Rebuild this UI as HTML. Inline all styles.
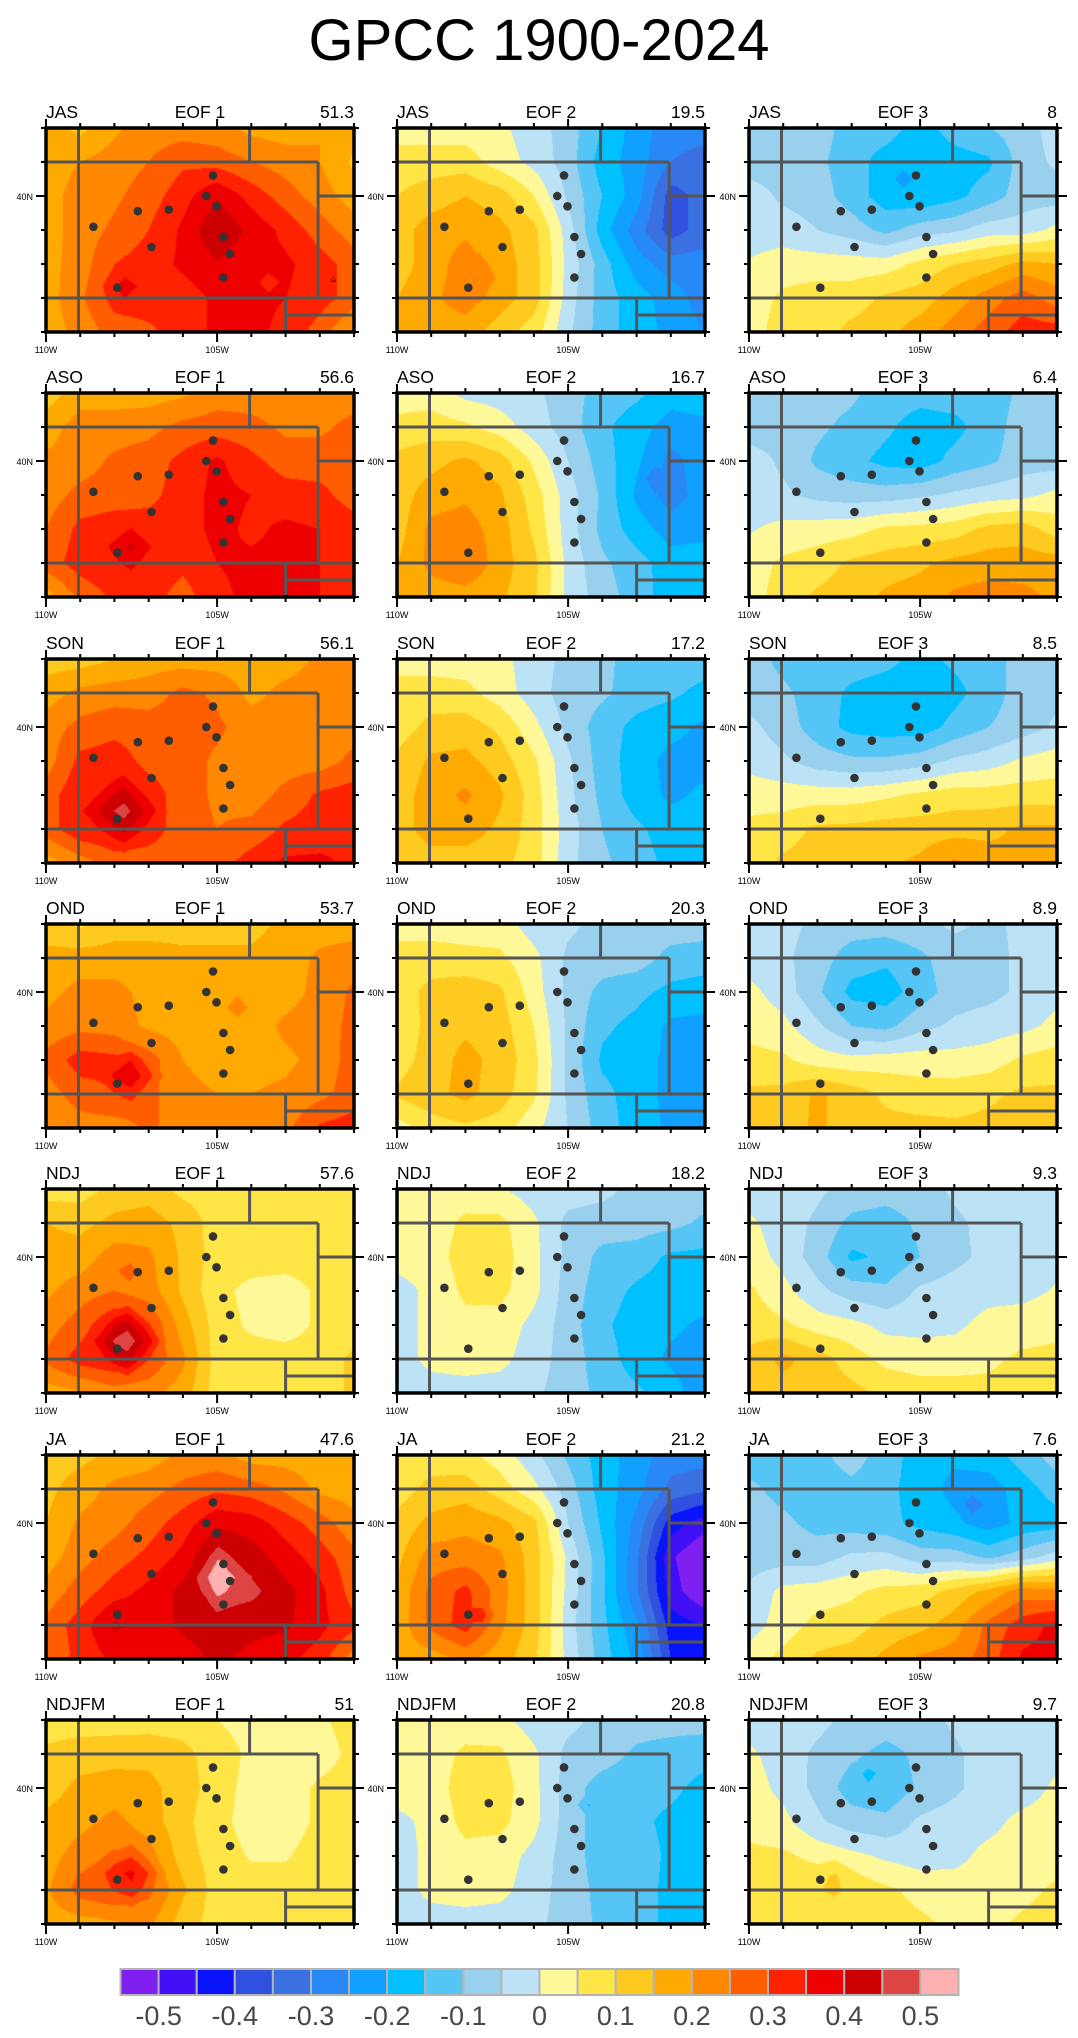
<!DOCTYPE html>
<html><head><meta charset="utf-8">
<style>
html,body{margin:0;padding:0;background:#fff;}
#wrap{position:relative;width:1078px;height:2038px;overflow:hidden;background:#fff;}
canvas{position:absolute;width:308px;height:204px;}
svg{position:absolute;left:0;top:0;}
svg text{font-family:"Liberation Sans",Arial,sans-serif;fill:#000;}
.h{font-size:17.5px;}
.t{font-size:9px;}
.cb{font-size:27px;fill:#484848 !important;}
</style></head><body><div id="wrap">
<canvas id="c0" width="308" height="204" style="left:46px;top:128px"></canvas>
<canvas id="c1" width="308" height="204" style="left:397px;top:128px"></canvas>
<canvas id="c2" width="308" height="204" style="left:749px;top:128px"></canvas>
<canvas id="c3" width="308" height="204" style="left:46px;top:393px"></canvas>
<canvas id="c4" width="308" height="204" style="left:397px;top:393px"></canvas>
<canvas id="c5" width="308" height="204" style="left:749px;top:393px"></canvas>
<canvas id="c6" width="308" height="204" style="left:46px;top:659px"></canvas>
<canvas id="c7" width="308" height="204" style="left:397px;top:659px"></canvas>
<canvas id="c8" width="308" height="204" style="left:749px;top:659px"></canvas>
<canvas id="c9" width="308" height="204" style="left:46px;top:924px"></canvas>
<canvas id="c10" width="308" height="204" style="left:397px;top:924px"></canvas>
<canvas id="c11" width="308" height="204" style="left:749px;top:924px"></canvas>
<canvas id="c12" width="308" height="204" style="left:46px;top:1189px"></canvas>
<canvas id="c13" width="308" height="204" style="left:397px;top:1189px"></canvas>
<canvas id="c14" width="308" height="204" style="left:749px;top:1189px"></canvas>
<canvas id="c15" width="308" height="204" style="left:46px;top:1455px"></canvas>
<canvas id="c16" width="308" height="204" style="left:397px;top:1455px"></canvas>
<canvas id="c17" width="308" height="204" style="left:749px;top:1455px"></canvas>
<canvas id="c18" width="308" height="204" style="left:46px;top:1720px"></canvas>
<canvas id="c19" width="308" height="204" style="left:397px;top:1720px"></canvas>
<canvas id="c20" width="308" height="204" style="left:749px;top:1720px"></canvas>

<svg width="1078" height="2038" viewBox="0 0 1078 2038" xmlns="http://www.w3.org/2000/svg">
<defs>
<g id="dec">
<path fill="none" stroke="#555" stroke-width="3" d="M0 34H272.1M0 170H308M32.5 0V204M272.1 34V170M203.6 0V34M272.1 68H308M239.6 170V204M239.6 187H308"/>
<g fill="#333">
<circle cx="167" cy="47.4" r="4.3"/>
<circle cx="160.3" cy="68" r="4.3"/>
<circle cx="170.5" cy="78.3" r="4.3"/>
<circle cx="91.8" cy="83.2" r="4.3"/>
<circle cx="122.8" cy="81.7" r="4.3"/>
<circle cx="47.4" cy="98.8" r="4.3"/>
<circle cx="177.4" cy="109" r="4.3"/>
<circle cx="105.5" cy="119" r="4.3"/>
<circle cx="184.1" cy="126" r="4.3"/>
<circle cx="177.4" cy="149.5" r="4.3"/>
<circle cx="71.3" cy="159.7" r="4.3"/>
</g>
<rect x="0" y="0" width="308" height="204" fill="none" stroke="#000" stroke-width="3.5"/>
<path fill="none" stroke="#000" stroke-width="2" d="M0 0V-9M34.2 0V-5M68.4 0V-5M102.7 0V-5M136.9 0V-5M171.1 0V-9M205.3 0V-5M239.6 0V-5M273.8 0V-5M308 0V-5M0 204V214M34.2 204V209M68.4 204V209M102.7 204V209M136.9 204V209M171.1 204V214M205.3 204V209M239.6 204V209M273.8 204V209M308 204V209M0 0H-5M0 34H-5M0 68H-10M0 102H-5M0 136H-5M0 170H-5M0 204H-5M308 0H313M308 34H313M308 68H318M308 102H313M308 136H313M308 170H313M308 204H313"/>
</g>
</defs>

<text x="539" y="60" font-size="58" text-anchor="middle">GPCC 1900-2024</text>

<!-- Row 1 -->
<g transform="translate(46,128)"><use href="#dec"/>
<text class="h" x="0" y="-10">JAS</text><text class="h" x="154" y="-10" text-anchor="middle">EOF 1</text><text class="h" x="308" y="-10" text-anchor="end">51.3</text>
<text class="t" x="-13" y="72" text-anchor="end">40N</text><text class="t" x="0" y="225" text-anchor="middle">110W</text><text class="t" x="171.1" y="225" text-anchor="middle">105W</text>
<text x="0" y="0" font-size="7" transform="translate(285,151) rotate(90)" text-anchor="middle">-3</text>
</g>
<g transform="translate(397,128)"><use href="#dec"/>
<text class="h" x="0" y="-10">JAS</text><text class="h" x="154" y="-10" text-anchor="middle">EOF 2</text><text class="h" x="308" y="-10" text-anchor="end">19.5</text>
<text class="t" x="-13" y="72" text-anchor="end">40N</text><text class="t" x="0" y="225" text-anchor="middle">110W</text><text class="t" x="171.1" y="225" text-anchor="middle">105W</text>
</g>
<g transform="translate(749,128)"><use href="#dec"/>
<text class="h" x="0" y="-10">JAS</text><text class="h" x="154" y="-10" text-anchor="middle">EOF 3</text><text class="h" x="308" y="-10" text-anchor="end">8</text>
<text class="t" x="-13" y="72" text-anchor="end">40N</text><text class="t" x="0" y="225" text-anchor="middle">110W</text><text class="t" x="171.1" y="225" text-anchor="middle">105W</text>
</g>

<!-- Row 2 -->
<g transform="translate(46,393)"><use href="#dec"/>
<text class="h" x="0" y="-10">ASO</text><text class="h" x="154" y="-10" text-anchor="middle">EOF 1</text><text class="h" x="308" y="-10" text-anchor="end">56.6</text>
<text class="t" x="-13" y="72" text-anchor="end">40N</text><text class="t" x="0" y="225" text-anchor="middle">110W</text><text class="t" x="171.1" y="225" text-anchor="middle">105W</text>
</g>
<g transform="translate(397,393)"><use href="#dec"/>
<text class="h" x="0" y="-10">ASO</text><text class="h" x="154" y="-10" text-anchor="middle">EOF 2</text><text class="h" x="308" y="-10" text-anchor="end">16.7</text>
<text class="t" x="-13" y="72" text-anchor="end">40N</text><text class="t" x="0" y="225" text-anchor="middle">110W</text><text class="t" x="171.1" y="225" text-anchor="middle">105W</text>
</g>
<g transform="translate(749,393)"><use href="#dec"/>
<text class="h" x="0" y="-10">ASO</text><text class="h" x="154" y="-10" text-anchor="middle">EOF 3</text><text class="h" x="308" y="-10" text-anchor="end">6.4</text>
<text class="t" x="-13" y="72" text-anchor="end">40N</text><text class="t" x="0" y="225" text-anchor="middle">110W</text><text class="t" x="171.1" y="225" text-anchor="middle">105W</text>
</g>

<!-- Row 3 -->
<g transform="translate(46,659)"><use href="#dec"/>
<text class="h" x="0" y="-10">SON</text><text class="h" x="154" y="-10" text-anchor="middle">EOF 1</text><text class="h" x="308" y="-10" text-anchor="end">56.1</text>
<text class="t" x="-13" y="72" text-anchor="end">40N</text><text class="t" x="0" y="225" text-anchor="middle">110W</text><text class="t" x="171.1" y="225" text-anchor="middle">105W</text>
</g>
<g transform="translate(397,659)"><use href="#dec"/>
<text class="h" x="0" y="-10">SON</text><text class="h" x="154" y="-10" text-anchor="middle">EOF 2</text><text class="h" x="308" y="-10" text-anchor="end">17.2</text>
<text class="t" x="-13" y="72" text-anchor="end">40N</text><text class="t" x="0" y="225" text-anchor="middle">110W</text><text class="t" x="171.1" y="225" text-anchor="middle">105W</text>
</g>
<g transform="translate(749,659)"><use href="#dec"/>
<text class="h" x="0" y="-10">SON</text><text class="h" x="154" y="-10" text-anchor="middle">EOF 3</text><text class="h" x="308" y="-10" text-anchor="end">8.5</text>
<text class="t" x="-13" y="72" text-anchor="end">40N</text><text class="t" x="0" y="225" text-anchor="middle">110W</text><text class="t" x="171.1" y="225" text-anchor="middle">105W</text>
</g>

<!-- Row 4 -->
<g transform="translate(46,924)"><use href="#dec"/>
<text class="h" x="0" y="-10">OND</text><text class="h" x="154" y="-10" text-anchor="middle">EOF 1</text><text class="h" x="308" y="-10" text-anchor="end">53.7</text>
<text class="t" x="-13" y="72" text-anchor="end">40N</text><text class="t" x="0" y="225" text-anchor="middle">110W</text><text class="t" x="171.1" y="225" text-anchor="middle">105W</text>
</g>
<g transform="translate(397,924)"><use href="#dec"/>
<text class="h" x="0" y="-10">OND</text><text class="h" x="154" y="-10" text-anchor="middle">EOF 2</text><text class="h" x="308" y="-10" text-anchor="end">20.3</text>
<text class="t" x="-13" y="72" text-anchor="end">40N</text><text class="t" x="0" y="225" text-anchor="middle">110W</text><text class="t" x="171.1" y="225" text-anchor="middle">105W</text>
</g>
<g transform="translate(749,924)"><use href="#dec"/>
<text class="h" x="0" y="-10">OND</text><text class="h" x="154" y="-10" text-anchor="middle">EOF 3</text><text class="h" x="308" y="-10" text-anchor="end">8.9</text>
<text class="t" x="-13" y="72" text-anchor="end">40N</text><text class="t" x="0" y="225" text-anchor="middle">110W</text><text class="t" x="171.1" y="225" text-anchor="middle">105W</text>
</g>

<!-- Row 5 -->
<g transform="translate(46,1189)"><use href="#dec"/>
<text class="h" x="0" y="-10">NDJ</text><text class="h" x="154" y="-10" text-anchor="middle">EOF 1</text><text class="h" x="308" y="-10" text-anchor="end">57.6</text>
<text class="t" x="-13" y="72" text-anchor="end">40N</text><text class="t" x="0" y="225" text-anchor="middle">110W</text><text class="t" x="171.1" y="225" text-anchor="middle">105W</text>
</g>
<g transform="translate(397,1189)"><use href="#dec"/>
<text class="h" x="0" y="-10">NDJ</text><text class="h" x="154" y="-10" text-anchor="middle">EOF 2</text><text class="h" x="308" y="-10" text-anchor="end">18.2</text>
<text class="t" x="-13" y="72" text-anchor="end">40N</text><text class="t" x="0" y="225" text-anchor="middle">110W</text><text class="t" x="171.1" y="225" text-anchor="middle">105W</text>
</g>
<g transform="translate(749,1189)"><use href="#dec"/>
<text class="h" x="0" y="-10">NDJ</text><text class="h" x="154" y="-10" text-anchor="middle">EOF 3</text><text class="h" x="308" y="-10" text-anchor="end">9.3</text>
<text class="t" x="-13" y="72" text-anchor="end">40N</text><text class="t" x="0" y="225" text-anchor="middle">110W</text><text class="t" x="171.1" y="225" text-anchor="middle">105W</text>
</g>

<!-- Row 6 -->
<g transform="translate(46,1455)"><use href="#dec"/>
<text class="h" x="0" y="-10">JA</text><text class="h" x="154" y="-10" text-anchor="middle">EOF 1</text><text class="h" x="308" y="-10" text-anchor="end">47.6</text>
<text class="t" x="-13" y="72" text-anchor="end">40N</text><text class="t" x="0" y="225" text-anchor="middle">110W</text><text class="t" x="171.1" y="225" text-anchor="middle">105W</text>
</g>
<g transform="translate(397,1455)"><use href="#dec"/>
<text class="h" x="0" y="-10">JA</text><text class="h" x="154" y="-10" text-anchor="middle">EOF 2</text><text class="h" x="308" y="-10" text-anchor="end">21.2</text>
<text class="t" x="-13" y="72" text-anchor="end">40N</text><text class="t" x="0" y="225" text-anchor="middle">110W</text><text class="t" x="171.1" y="225" text-anchor="middle">105W</text>
</g>
<g transform="translate(749,1455)"><use href="#dec"/>
<text class="h" x="0" y="-10">JA</text><text class="h" x="154" y="-10" text-anchor="middle">EOF 3</text><text class="h" x="308" y="-10" text-anchor="end">7.6</text>
<text class="t" x="-13" y="72" text-anchor="end">40N</text><text class="t" x="0" y="225" text-anchor="middle">110W</text><text class="t" x="171.1" y="225" text-anchor="middle">105W</text>
</g>

<!-- Row 7 -->
<g transform="translate(46,1720)"><use href="#dec"/>
<text class="h" x="0" y="-10">NDJFM</text><text class="h" x="154" y="-10" text-anchor="middle">EOF 1</text><text class="h" x="308" y="-10" text-anchor="end">51</text>
<text class="t" x="-13" y="72" text-anchor="end">40N</text><text class="t" x="0" y="225" text-anchor="middle">110W</text><text class="t" x="171.1" y="225" text-anchor="middle">105W</text>
</g>
<g transform="translate(397,1720)"><use href="#dec"/>
<text class="h" x="0" y="-10">NDJFM</text><text class="h" x="154" y="-10" text-anchor="middle">EOF 2</text><text class="h" x="308" y="-10" text-anchor="end">20.8</text>
<text class="t" x="-13" y="72" text-anchor="end">40N</text><text class="t" x="0" y="225" text-anchor="middle">110W</text><text class="t" x="171.1" y="225" text-anchor="middle">105W</text>
</g>
<g transform="translate(749,1720)"><use href="#dec"/>
<text class="h" x="0" y="-10">NDJFM</text><text class="h" x="154" y="-10" text-anchor="middle">EOF 3</text><text class="h" x="308" y="-10" text-anchor="end">9.7</text>
<text class="t" x="-13" y="72" text-anchor="end">40N</text><text class="t" x="0" y="225" text-anchor="middle">110W</text><text class="t" x="171.1" y="225" text-anchor="middle">105W</text>
</g>

<!-- Colorbar -->
<g stroke="#b4b4b4" stroke-width="2">
<rect x="120.5" y="1969" width="38.1" height="26" fill="#8020F0"/>
<rect x="158.6" y="1969" width="38.1" height="26" fill="#4010F5"/>
<rect x="196.7" y="1969" width="38.1" height="26" fill="#0A14FA"/>
<rect x="234.8" y="1969" width="38.1" height="26" fill="#3050E0"/>
<rect x="272.9" y="1969" width="38.1" height="26" fill="#3A70E0"/>
<rect x="311.0" y="1969" width="38.1" height="26" fill="#2888F5"/>
<rect x="349.0" y="1969" width="38.1" height="26" fill="#10A0FF"/>
<rect x="387.1" y="1969" width="38.1" height="26" fill="#00C0FF"/>
<rect x="425.2" y="1969" width="38.1" height="26" fill="#55C5F5"/>
<rect x="463.3" y="1969" width="38.1" height="26" fill="#98D0EE"/>
<rect x="501.4" y="1969" width="38.1" height="26" fill="#BCE2F5"/>
<rect x="539.5" y="1969" width="38.1" height="26" fill="#FFF898"/>
<rect x="577.6" y="1969" width="38.1" height="26" fill="#FFE545"/>
<rect x="615.7" y="1969" width="38.1" height="26" fill="#FFCA20"/>
<rect x="653.8" y="1969" width="38.1" height="26" fill="#FFAA00"/>
<rect x="691.9" y="1969" width="38.1" height="26" fill="#FF8800"/>
<rect x="729.9" y="1969" width="38.1" height="26" fill="#FF5E00"/>
<rect x="768.0" y="1969" width="38.1" height="26" fill="#FF2200"/>
<rect x="806.1" y="1969" width="38.1" height="26" fill="#EE0000"/>
<rect x="844.2" y="1969" width="38.1" height="26" fill="#CC0000"/>
<rect x="882.3" y="1969" width="38.1" height="26" fill="#DD4444"/>
<rect x="920.4" y="1969" width="38.1" height="26" fill="#FFB0B0"/>
</g>
<g text-anchor="middle">
<text class="cb" x="158.6" y="2025">-0.5</text>
<text class="cb" x="234.8" y="2025">-0.4</text>
<text class="cb" x="311.0" y="2025">-0.3</text>
<text class="cb" x="387.1" y="2025">-0.2</text>
<text class="cb" x="463.3" y="2025">-0.1</text>
<text class="cb" x="539.5" y="2025">0</text>
<text class="cb" x="615.7" y="2025">0.1</text>
<text class="cb" x="691.9" y="2025">0.2</text>
<text class="cb" x="768.0" y="2025">0.3</text>
<text class="cb" x="844.2" y="2025">0.4</text>
<text class="cb" x="920.4" y="2025">0.5</text>
</g>
</svg>
</div>
<script>
(function(){
var C=['#8020F0','#4010F5','#0A14FA','#3050E0','#3A70E0','#2888F5','#10A0FF','#00C0FF','#55C5F5','#98D0EE','#BCE2F5','#FFF898','#FFE545','#FFCA20','#FFAA00','#FF8800','#FF5E00','#FF2200','#EE0000','#CC0000','#DD4444','#FFB0B0'];
var RGB=C.map(function(h){return [parseInt(h.substr(1,2),16),parseInt(h.substr(3,2),16),parseInt(h.substr(5,2),16)];});
var P=[
{g:[[3.5,2.7,3.8,4.5,4.5,4.3,3.7,3.5,4.0,3.5],
[3.5,4.0,4.5,5.0,5.8,5.6,5.0,4.5,4.0,2.8],
[3.5,4.5,4.8,5.5,6.6,7.9,6.6,5.5,4.5,3.5],
[3.5,4.5,5.2,6.0,7.2,8.9,7.7,6.7,5.5,4.5],
[3.6,4.5,6.0,6.5,7.2,7.9,7.3,7.2,6.5,5.5],
[3.5,4.8,6.4,6.5,6.5,7.2,7.2,7.0,6.5,5.5],
[3.5,4.3,5.5,5.8,6.5,7.2,7.2,6.8,5.5,3.8]],
b:[[-107.7,37.35,1.0,0.9],[-103.5,37.47,-0.6,0.4]]},
{g:[[0.5,0.5,0.5,0.2,-0.5,-1.5,-3.0,-4.5,-5.5,-5.5],
[1.5,1.5,1.5,0.5,-0.3,-1.5,-3.5,-4.5,-6.0,-6.5],
[2.0,2.5,3.0,2.5,1.0,-1.2,-3.0,-4.5,-7.5,-6.5],
[2.5,3.5,3.8,3.3,2.3,-0.5,-3.5,-5.5,-7.5,-6.5],
[2.5,3.5,4.5,3.5,2.5,-0.3,-2.5,-4.5,-5.5,-5.5],
[3.0,3.8,4.5,3.5,2.5,-0.5,-2.5,-3.5,-4.5,-5.5],
[3.5,3.5,3.5,2.5,1.5,-0.8,-2.5,-3.5,-4.3,-5.0]],
b:[[-107.6,37.6,0.9,0.8]]},
{g:[[-1.5,-1.5,-1.5,-2.5,-2.5,-3.5,-2.5,-2.0,-1.5,-0.5],
[-1.5,-1.5,-1.8,-2.5,-3.5,-3.8,-3.5,-3.2,-1.5,-0.8],
[-0.5,-1.2,-1.5,-2.5,-3.5,-3.8,-3.3,-2.5,-1.5,-1.5],
[-0.5,-0.5,-1.0,-1.5,-2.3,-1.5,-1.2,-0.5,-0.5,0.3],
[0.1,0.5,0.5,0.5,0.5,1.3,2.0,2.5,3.3,3.0],
[0.5,1.2,1.5,1.5,2.2,2.5,3.5,4.5,5.5,4.5],
[0.5,1.5,1.5,2.3,2.7,3.5,4.5,5.5,6.5,6.5]],
b:[[-105.5,40.5,-1.0,0.4]]},
{g:[[2.5,3.5,3.5,3.5,3.8,4.5,4.5,4.5,4.5,4.5],
[3.5,4.5,4.5,4.7,5.3,5.5,5.3,4.8,4.8,5.3],
[4.2,4.5,5.2,5.5,6.3,7.2,6.3,5.5,5.5,5.5],
[4.5,5.3,5.5,5.7,6.5,7.3,7.0,6.5,6.3,5.5],
[5.0,6.3,6.6,6.5,6.5,7.3,6.8,7.2,7.0,6.5],
[5.5,6.5,7.0,6.8,6.3,7.0,7.2,7.2,7.0,6.5],
[3.5,5.2,6.2,6.5,5.5,6.8,7.2,7.2,7.0,6.5]],
b:[[-107.52,37.48,1.5,0.8]]},
{g:[[0.5,0.5,-0.3,-0.5,-0.8,-1.5,-2.5,-2.8,-3.5,-3.5],
[1.3,1.5,1.2,0.5,-0.5,-1.5,-2.8,-3.5,-4.5,-4.2],
[2.3,2.7,3.2,2.5,0.8,-1.0,-2.5,-3.8,-5.3,-4.5],
[2.5,3.5,3.8,3.2,1.5,-0.5,-2.2,-4.2,-5.5,-4.5],
[2.5,4.3,4.5,3.5,1.8,-0.5,-2.3,-3.5,-4.5,-4.3],
[3.0,4.3,5.0,3.5,2.3,-0.3,-1.8,-2.6,-3.5,-3.5],
[3.3,3.5,3.5,3.2,2.2,-0.3,-1.5,-2.5,-3.5,-3.5]],
b:[[-102.47,39.5,-1.2,0.5]]},
{g:[[-1.5,-1.5,-1.5,-1.8,-2.5,-2.6,-2.5,-2.5,-1.8,-1.5],
[-1.5,-1.5,-1.8,-2.3,-2.8,-3.5,-3.3,-2.5,-1.5,-1.5],
[-0.5,-1.2,-2.2,-2.7,-3.3,-3.5,-2.7,-2.2,-1.5,-1.5],
[-0.5,-0.8,-1.3,-1.5,-1.5,-1.2,-0.8,-0.5,-0.3,0.3],
[-0.1,0.3,0.5,0.6,1.2,1.3,1.5,2.3,2.5,1.5],
[0.5,1.2,1.5,2.2,2.5,2.8,3.3,3.5,3.5,3.5],
[0.5,1.5,2.2,2.5,3.2,3.5,4.2,4.5,4.3,3.8]],
b:[]},
{g:[[2.5,2.5,3.0,3.5,3.5,3.5,3.5,3.5,4.2,4.5],
[3.5,4.3,4.5,4.5,5.3,4.8,3.7,4.3,4.5,4.5],
[4.5,5.3,5.7,5.5,5.5,5.2,4.5,4.5,4.5,4.5],
[4.5,6.3,6.5,5.7,5.5,4.8,4.5,4.5,4.5,5.3],
[5.5,6.8,7.0,6.5,5.5,4.8,4.5,5.3,6.2,6.5],
[5.5,6.8,7.0,6.5,5.5,5.0,5.3,6.2,6.5,6.8],
[3.5,4.5,5.5,5.5,5.5,5.5,6.5,7.2,7.2,6.8]],
b:[[-107.72,37.53,2.6,1.3]]},
{g:[[0.5,0.5,0.5,0.3,-0.5,-1.3,-1.7,-2.5,-2.5,-2.5],
[1.5,1.5,1.3,0.5,-0.5,-1.5,-1.8,-2.5,-2.8,-3.3],
[1.5,2.3,2.5,1.8,0.3,-1.3,-2.5,-3.3,-3.7,-4.2],
[2.2,3.2,3.3,2.5,1.2,-0.8,-2.5,-3.5,-4.3,-4.3],
[2.5,3.5,4.2,3.2,1.5,-0.7,-2.3,-3.5,-4.2,-3.8],
[2.5,3.5,3.5,2.8,1.5,-0.5,-2.0,-2.8,-3.5,-3.5],
[2.3,2.5,2.5,2.3,1.5,-0.7,-1.8,-2.5,-3.3,-3.3]],
b:[]},
{g:[[-1.5,-2.3,-2.5,-2.5,-2.7,-3.3,-2.8,-2.5,-1.5,-1.3],
[-1.5,-1.8,-2.5,-3.2,-3.5,-3.7,-3.3,-2.5,-1.5,-1.3],
[-0.7,-1.5,-2.5,-3.3,-3.5,-3.5,-2.7,-2.0,-1.5,-0.8],
[-0.3,-0.8,-1.5,-1.8,-1.8,-1.5,-0.8,-0.5,0.2,0.5],
[0.5,0.5,0.5,0.5,0.8,1.2,1.5,1.5,1.5,1.5],
[1.3,1.5,2.2,2.3,2.5,2.5,2.6,2.7,3.2,3.2],
[1.5,2.2,2.5,2.5,2.8,3.2,4.2,3.5,3.3,3.3]],
b:[]},
{g:[[2.5,1.8,2.5,2.5,2.5,2.5,2.7,3.2,3.5,3.5],
[3.3,3.5,3.5,3.5,3.3,3.3,3.2,3.5,4.2,4.5],
[3.7,4.3,4.3,3.7,3.5,3.7,3.6,3.6,4.3,5.2],
[4.3,4.7,4.5,3.8,3.5,3.5,3.5,4.2,4.5,5.3],
[5.3,6.5,6.3,5.5,4.0,3.6,3.6,3.8,4.3,5.5],
[4.5,5.5,6.0,5.3,4.3,4.0,4.0,4.2,4.7,5.5],
[4.3,4.5,4.5,5.2,4.5,4.5,4.5,4.7,6.2,6.5]],
b:[[-107.52,37.53,2.0,1.0],[-104.4,39.54,0.9,0.6]]},
{g:[[0.5,0.5,0.5,0.5,-0.5,-0.8,-1.3,-1.5,-1.5,-1.5],
[1.5,1.5,1.3,1.2,0.3,-1.2,-1.5,-1.5,-2.3,-2.5],
[1.5,2.3,2.6,2.2,0.5,-1.3,-2.3,-2.7,-3.3,-3.5],
[1.0,2.5,2.8,2.5,1.0,-1.2,-2.8,-3.3,-4.2,-4.3],
[1.5,2.5,3.3,2.7,1.3,-1.2,-3.2,-3.5,-4.3,-4.5],
[2.2,2.7,3.3,2.5,1.2,-1.2,-2.7,-3.5,-4.3,-4.5],
[0.5,1.5,1.8,1.5,0.3,-1.0,-2.5,-3.5,-4.2,-4.3]],
b:[]},
{g:[[-0.5,-0.7,-1.2,-1.5,-1.5,-1.3,-0.8,-1.2,-0.8,-0.5],
[-0.5,-0.8,-1.5,-2.5,-2.8,-2.2,-1.5,-1.3,-0.8,-0.5],
[0.3,-0.5,-1.8,-3.3,-3.5,-2.5,-1.5,-1.3,-0.8,-0.3],
[0.7,0.3,-0.8,-2.0,-2.3,-1.3,-0.8,-0.5,-0.3,0.3],
[1.3,1.2,0.5,0.3,0.5,0.5,0.4,0.5,1.2,1.5],
[2.2,2.3,3.2,2.5,1.8,1.5,1.5,1.8,2.2,2.2],
[2.3,2.5,3.2,2.5,2.3,2.3,2.2,2.3,2.5,2.5]],
b:[]},
{g:[[1.5,1.5,2.3,2.5,1.7,1.5,1.5,1.5,1.5,1.5],
[3.0,2.7,3.3,3.5,2.7,1.5,1.5,1.5,1.5,1.3],
[3.5,3.5,4.5,4.2,2.8,1.5,1.5,1.5,1.5,1.5],
[3.8,4.5,5.0,4.5,2.8,1.3,0.7,0.5,1.2,1.5],
[4.5,5.5,7.0,6.0,3.5,1.5,0.8,0.5,1.2,1.5],
[5.2,6.5,7.0,6.0,4.2,1.5,1.5,1.5,1.5,2.2],
[3.5,3.8,4.5,4.3,3.5,1.5,1.5,1.5,1.5,2.2]],
b:[[-107.62,37.53,3.2,1.2],[-107.55,39.6,1.0,0.5]]},
{g:[[0.5,0.5,0.5,0.1,-0.5,-0.5,-0.7,-1.3,-1.5,-1.5],
[0.5,0.5,1.2,1.3,0.2,-1.3,-1.5,-1.5,-1.7,-2.2],
[0.5,0.6,1.4,1.5,0.3,-1.3,-2.3,-2.5,-3.2,-3.3],
[-0.5,0.3,1.2,1.3,0.3,-1.5,-2.5,-3.2,-3.5,-3.5],
[-0.5,0.3,0.7,0.6,-0.3,-1.5,-2.8,-3.5,-3.8,-4.2],
[-0.5,0.3,0.5,0.3,-0.5,-1.5,-2.5,-3.5,-4.2,-4.5],
[-0.5,-0.5,-0.5,-0.5,-0.8,-1.5,-2.3,-2.8,-3.5,-4.8]],
b:[]},
{g:[[-0.5,-0.5,-0.8,-1.3,-1.5,-1.5,-0.8,-0.5,-0.5,-0.5],
[0.2,-0.5,-1.2,-2.3,-2.5,-1.8,-1.2,-0.7,-0.5,-0.5],
[0.5,-0.3,-1.5,-3.2,-2.8,-2.0,-1.3,-0.7,-0.5,-0.3],
[1.2,0.3,-0.7,-1.5,-1.8,-0.8,-0.5,-0.3,-0.3,0.1],
[1.5,1.2,0.5,0.3,-0.3,-0.3,-0.2,0.3,0.5,0.7],
[2.3,3.3,2.5,1.5,0.7,0.5,0.5,0.8,1.2,1.3],
[2.3,2.5,2.5,2.3,1.8,1.5,1.5,1.3,1.5,1.5]],
b:[]},
{g:[[2.5,2.7,3.2,3.5,4.2,4.3,3.5,3.5,3.5,3.0],
[2.7,3.5,4.3,4.6,5.3,5.8,5.5,4.8,3.7,3.5],
[3.0,4.2,4.6,5.5,6.5,7.8,7.5,6.5,5.5,4.3],
[3.5,4.6,5.5,6.3,7.3,9.3,8.5,7.5,6.5,5.3],
[4.3,5.5,6.5,7.3,8.3,9.5,9.3,8.3,7.3,5.5],
[5.3,6.5,8.2,7.5,8.2,8.7,8.3,8.2,7.3,6.3],
[5.2,6.3,7.2,7.3,7.5,8.2,7.7,7.3,6.5,4.5]],
b:[[-104.94,38.41,1.5,1.0]]},
{g:[[1.5,1.5,1.3,0.5,-0.7,-2.2,-3.5,-4.5,-5.5,-5.5],
[1.5,2.3,2.5,1.5,0.3,-1.5,-3.5,-4.6,-6.3,-6.8],
[2.3,3.3,3.7,3.3,2.3,-1.0,-3.2,-5.3,-8.5,-9.5],
[2.7,4.5,4.5,4.2,2.5,-0.2,-2.8,-5.8,-9.8,-11.2],
[3.2,5.3,6.3,4.5,2.5,-0.3,-2.8,-5.8,-9.5,-11.0],
[3.3,5.3,6.5,4.3,2.5,-0.5,-2.7,-4.8,-8.5,-9.0],
[3.5,3.5,4.2,3.5,2.2,-0.3,-2.5,-4.3,-8.0,-8.5]],
b:[[-107.5,37.3,1.0,0.5]]},
{g:[[-2.5,-2.5,-2.3,-1.5,-2.5,-3.5,-3.8,-3.5,-2.5,-1.5],
[-1.8,-2.3,-2.5,-2.3,-2.7,-3.5,-4.3,-4.5,-3.5,-2.5],
[-1.5,-1.8,-2.3,-2.5,-2.7,-3.3,-3.8,-4.5,-3.7,-3.5],
[-1.5,-1.5,-1.5,-0.8,-0.7,-1.5,-1.5,-2.2,-1.5,-0.5],
[-0.8,0.3,0.5,0.8,1.3,1.5,2.3,3.3,4.5,4.2],
[-0.5,0.5,1.3,1.5,2.3,2.7,3.5,5.3,6.5,7.3],
[0.5,1.3,2.2,2.5,3.3,4.2,4.5,5.5,7.2,7.3]],
b:[[-103.48,40.53,-1.3,0.6]]},
{g:[[1.5,1.5,1.5,1.5,1.5,1.0,0.6,0.5,0.8,1.5],
[2.2,2.5,2.6,2.7,2.3,1.5,0.8,0.5,0.5,1.3],
[2.5,3.3,3.5,3.3,2.5,1.5,0.6,0.5,1.2,1.5],
[3.3,3.7,4.3,3.5,2.3,1.3,0.6,0.5,1.2,1.5],
[3.5,4.5,5.2,4.5,2.5,1.5,0.9,0.9,1.5,1.5],
[3.8,5.5,6.0,5.3,3.2,1.5,1.5,1.5,1.5,1.5],
[3.5,3.5,3.8,4.2,2.5,1.5,1.5,1.5,1.5,1.5]],
b:[[-107.5,37.5,2.0,1.1]]},
{g:[[0.5,0.5,0.5,0.3,-0.5,-0.7,-1.3,-1.5,-1.5,-1.5],
[0.5,0.5,1.2,1.2,0.2,-1.3,-1.5,-2.2,-2.5,-2.7],
[0.5,0.5,1.5,1.5,0.3,-1.5,-2.5,-2.7,-2.8,-3.3],
[-0.3,0.3,1.3,1.3,0.3,-1.5,-2.5,-2.8,-3.2,-3.5],
[-0.5,0.3,0.7,0.5,-0.3,-1.5,-2.5,-2.5,-3.2,-3.5],
[-0.5,0.3,0.5,0.3,-0.5,-1.5,-2.3,-2.5,-3.3,-3.5],
[-0.5,-0.5,-0.5,-0.5,-0.7,-1.5,-2.2,-2.5,-3.3,-3.3]],
b:[[-104.4,39.5,-1.0,0.4]]},
{g:[[-0.5,-0.5,-0.7,-1.3,-1.5,-1.5,-0.8,-0.5,-0.5,-0.5],
[0.2,-0.5,-1.2,-1.8,-2.3,-1.8,-1.2,-0.5,-0.5,-0.3],
[0.5,-0.3,-1.3,-2.5,-2.8,-1.8,-1.2,-0.5,-0.5,0.2],
[0.7,0.3,-0.8,-1.5,-1.7,-0.8,-0.5,-0.3,0.3,0.5],
[1.2,1.2,0.7,0.3,-0.2,-0.5,-0.3,0.3,0.5,0.5],
[1.5,1.5,2.0,1.8,1.2,0.7,0.5,0.5,0.7,1.2],
[1.5,1.5,1.7,1.5,1.5,1.2,0.8,0.7,1.2,1.5]],
b:[[-106.52,40.43,-1.0,0.5],[-107.5,37.43,0.8,0.8]]}
];
P.forEach(function(p,n){
  var cv=document.getElementById('c'+n); if(!cv||!cv.getContext) return;
  var W=cv.width,H=cv.height,ctx=cv.getContext('2d'),im=ctx.createImageData(W,H),d=im.data,g=p.g,bs=p.b;
  for(var y=0;y<H;y++){
    var gy=(y+0.5)/H*6,i=Math.min(5,Math.floor(gy)),fy=gy-i,lat=42-gy;
    for(var x=0;x<W;x++){
      var gx=(x+0.5)/W*9,j=Math.min(8,Math.floor(gx)),fx=gx-j,lon=-110+gx;
      var v=g[i][j]*(1-fx)*(1-fy)+g[i][j+1]*fx*(1-fy)+g[i+1][j]*(1-fx)*fy+g[i+1][j+1]*fx*fy;
      for(var b=0;b<bs.length;b++){var B=bs[b];var dd=Math.abs(lon-B[0])+Math.abs(lat-B[1]);if(dd<B[3])v+=B[2]*(1-dd/B[3]);}
      var k=Math.floor(v)+11;if(k<0)k=0;if(k>21)k=21;
      var c=RGB[k],o=(y*W+x)*4;d[o]=c[0];d[o+1]=c[1];d[o+2]=c[2];d[o+3]=255;
    }
  }
  ctx.putImageData(im,0,0);
});
})();
</script>
</body></html>
